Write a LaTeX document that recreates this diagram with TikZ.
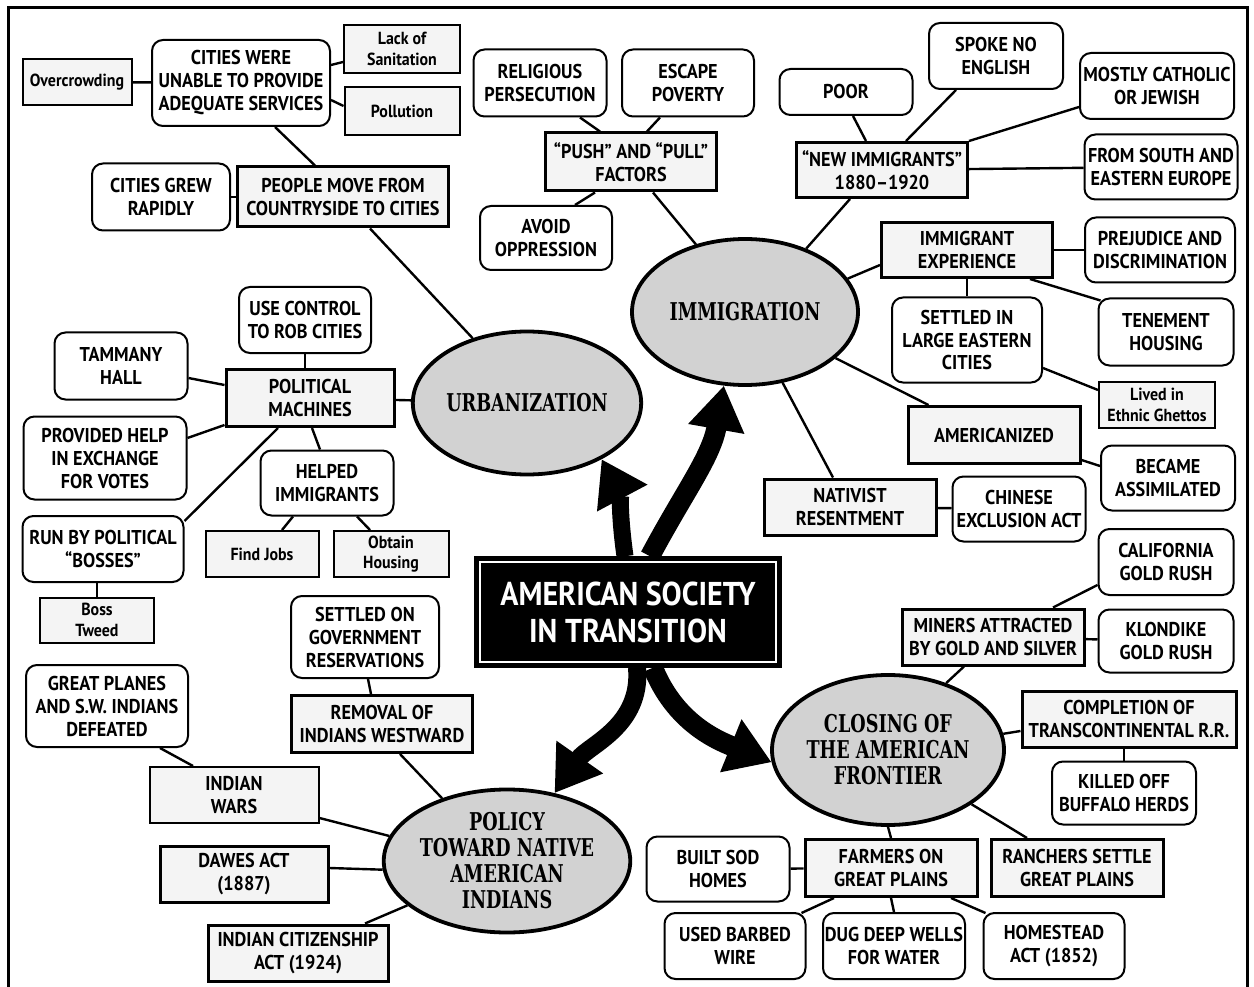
\documentclass[tikz,border=0pt]{standalone}
\usepackage{fontspec}
\setmainfont{PT Sans}[FakeStretch=0.91]
\newfontfamily\ellfam{DejaVu Serif}[FakeStretch=0.72]
\usetikzlibrary{shapes.geometric,arrows.meta}
\newcommand\mybox{\bfseries\fontsize{20}{23}\selectfont}
\newcommand\mysmall{\bfseries\fontsize{17.5}{20.5}\selectfont}
\newcommand\mytitle{\bfseries\fontsize{33}{37}\selectfont}
\newcommand\myell{\ellfam\bfseries\fontsize{24.5}{26}\selectfont}
\tikzset{
 rbox/.style={draw, line width=2pt, rounded corners=11pt, fill=white, align=center, inner sep=0pt, font=\mybox},
 sbox/.style={draw, line width=3pt, fill=gray!9, align=center, inner sep=0pt, font=\mybox},
 wbox/.style={draw, line width=2pt, fill=gray!9, align=center, inner sep=0pt, font=\mybox},
 tbox/.style={draw, line width=2pt, fill=gray!9, align=center, inner sep=0pt, font=\mysmall},
 ell/.style={draw, ellipse, line width=3.8pt, fill=gray!35, align=center, inner sep=0pt, font=\myell},
 link/.style={line width=2.4pt},
 bigarrow/.style={-{Triangle[length=44pt,width=54pt]}},
}
\begin{document}
\begin{tikzpicture}[x=1pt,y=1pt]
\useasboundingbox (0,0) rectangle (1254,-987);
\fill[white] (0,0) rectangle (1254,-987);
\draw[line width=3pt] (8,-987) -- (8,-8) -- (1247,-8) -- (1247,-987);

% urbanization cluster
\node[tbox, minimum width=109pt, minimum height=46pt] (over) at (77,-82) {Overcrowding};
\node[rbox, minimum width=178pt, minimum height=86pt] (cities) at (241,-83) {CITIES WERE\\UNABLE TO PROVIDE\\ADEQUATE SERVICES};
\node[tbox, minimum width=116pt, minimum height=48pt] (lack) at (402,-49) {Lack of\\Sanitation};
\node[tbox, minimum width=115pt, minimum height=48pt] (poll) at (402,-111) {Pollution};
\node[rbox, minimum width=138pt, minimum height=67pt] (grew) at (161,-197) {CITIES GREW\\RAPIDLY};
\node[sbox, minimum width=211pt, minimum height=60pt] (people) at (343,-197) {PEOPLE MOVE FROM\\COUNTRYSIDE TO CITIES};
\node[rbox, minimum width=132pt, minimum height=66pt] (use) at (305,-320) {USE CONTROL\\TO ROB CITIES};
\node[rbox, minimum width=133pt, minimum height=67pt] (tam) at (121,-366) {TAMMANY\\HALL};
\node[sbox, minimum width=168pt, minimum height=57pt] (pol) at (310,-398) {POLITICAL\\MACHINES};
\node[rbox, minimum width=163pt, minimum height=83pt] (prov) at (105,-458) {PROVIDED HELP\\IN EXCHANGE\\FOR VOTES};
\node[rbox, minimum width=133pt, minimum height=65pt] (help) at (327,-483) {HELPED\\IMMIGRANTS};
\node[rbox, minimum width=161pt, minimum height=66pt] (run) at (103,-549) {RUN BY POLITICAL\\“BOSSES”};
\node[tbox, minimum width=113pt, minimum height=46pt] (jobs) at (262,-554) {Find Jobs};
\node[tbox, minimum width=115pt, minimum height=46pt] (obtain) at (391,-554) {Obtain\\Housing};
\node[tbox, minimum width=114pt, minimum height=45pt] (boss) at (97,-620) {Boss\\Tweed};
\node[ell, minimum width=225pt, minimum height=143pt] (urb) at (527,-403) {URBANIZATION};

% immigration cluster
\node[rbox, minimum width=133pt, minimum height=67pt] (rel) at (540,-83) {RELIGIOUS\\PERSECUTION};
\node[rbox, minimum width=132pt, minimum height=67pt] (esc) at (688,-83) {ESCAPE\\POVERTY};
\node[sbox, minimum width=171pt, minimum height=58pt] (push) at (631,-162) {“PUSH” AND “PULL”\\FACTORS};
\node[rbox, minimum width=132pt, minimum height=64pt] (avoid) at (546,-238) {AVOID\\OPPRESSION};
\node[rbox, minimum width=133pt, minimum height=46pt] (poor) at (846,-92) {POOR};
\node[rbox, minimum width=134pt, minimum height=66pt] (spoke) at (996,-56) {SPOKE NO\\ENGLISH};
\node[rbox, minimum width=154pt, minimum height=66pt] (most) at (1157,-86) {MOSTLY CATHOLIC\\OR JEWISH};
\node[sbox, minimum width=171pt, minimum height=55pt] (new) at (882,-170) {“NEW IMMIGRANTS”\\1880–1920};
\node[rbox, minimum width=153pt, minimum height=65pt] (south) at (1161,-167) {FROM SOUTH AND\\EASTERN EUROPE};
\node[sbox, minimum width=171pt, minimum height=55pt] (exp) at (967,-250) {IMMIGRANT\\EXPERIENCE};
\node[rbox, minimum width=150pt, minimum height=65pt] (prej) at (1160,-250) {PREJUDICE AND\\DISCRIMINATION};
\node[ell, minimum width=226pt, minimum height=146pt] (imm) at (745,-312) {IMMIGRATION};
\node[rbox, minimum width=150pt, minimum height=85pt] (set) at (967,-340) {SETTLED IN\\LARGE EASTERN\\CITIES};
\node[rbox, minimum width=135pt, minimum height=67pt] (ten) at (1166,-332) {TENEMENT\\HOUSING};
\node[tbox, minimum width=116pt, minimum height=46pt] (lived) at (1157,-405) {Lived in\\Ethnic Ghettos};
\node[sbox, minimum width=172pt, minimum height=57pt] (amer) at (994,-435) {AMERICANIZED};
\node[rbox, minimum width=134pt, minimum height=65pt] (bec) at (1168,-478) {BECAME\\ASSIMILATED};
\node[sbox, minimum width=172pt, minimum height=56pt] (nat) at (850,-507) {NATIVIST\\RESENTMENT};
\node[rbox, minimum width=133pt, minimum height=65pt] (chin) at (1019,-509) {CHINESE\\EXCLUSION ACT};

% frontier cluster
\node[rbox, minimum width=135pt, minimum height=66pt] (cal) at (1166,-562) {CALIFORNIA\\GOLD RUSH};
\node[sbox, minimum width=182pt, minimum height=56pt] (miners) at (993,-637) {MINERS ATTRACTED\\BY GOLD AND SILVER};
\node[rbox, minimum width=135pt, minimum height=63pt] (klon) at (1166,-641) {KLONDIKE\\GOLD RUSH};
\node[ell, minimum width=232pt, minimum height=150pt] (clos) at (888,-750) {CLOSING OF\\THE AMERICAN\\FRONTIER};
\node[sbox, minimum width=214pt, minimum height=56pt] (comp) at (1129,-719) {COMPLETION OF\\TRANSCONTINENTAL R.R.};
\node[rbox, minimum width=144pt, minimum height=63pt] (kill) at (1124,-793) {KILLED OFF\\BUFFALO HERDS};
\node[sbox, minimum width=172pt, minimum height=57pt] (farm) at (891,-868) {FARMERS ON\\GREAT PLAINS};
\node[sbox, minimum width=172pt, minimum height=57pt] (ranch) at (1077,-868) {RANCHERS SETTLE\\GREAT PLAINS};
\node[rbox, minimum width=143pt, minimum height=65pt] (sod) at (718,-869) {BUILT SOD\\HOMES};
\node[rbox, minimum width=141pt, minimum height=66pt] (used) at (735,-946) {USED BARBED\\WIRE};
\node[rbox, minimum width=142pt, minimum height=66pt] (dug) at (894,-946) {DUG DEEP WELLS\\FOR WATER};
\node[rbox, minimum width=141pt, minimum height=66pt] (home) at (1054,-946) {HOMESTEAD\\ACT (1852)};

% policy cluster
\node[rbox, minimum width=148pt, minimum height=82pt] (setgov) at (365,-637) {SETTLED ON\\GOVERNMENT\\RESERVATIONS};
\node[rbox, minimum width=162pt, minimum height=82pt] (gp) at (107,-706) {GREAT PLANES\\AND S.W. INDIANS\\DEFEATED};
\node[sbox, minimum width=181pt, minimum height=57pt] (rem) at (382,-724) {REMOVAL OF\\INDIANS WESTWARD};
\node[wbox, minimum width=169pt, minimum height=56pt] (wars) at (234,-795) {INDIAN\\WARS};
\node[sbox, minimum width=168pt, minimum height=56pt] (dawes) at (244,-874) {DAWES ACT\\(1887)};
\node[sbox, minimum width=180pt, minimum height=56pt] (cit) at (298,-953) {INDIAN CITIZENSHIP\\ACT (1924)};
\node[ell, minimum width=221pt, minimum height=143pt] (polE) at (507,-861) {POLICY\\TOWARD NATIVE\\AMERICAN\\INDIANS};

% title
\node[draw=black, line width=3.5pt, fill=black, minimum width=304pt, minimum height=108pt, text=white, font=\mytitle, align=center, inner sep=0pt] (title) at (628,-612) {AMERICAN SOCIETY\\IN TRANSITION};
\draw[white, line width=2.2pt] ([shift={(6,-6)}]title.north west) rectangle ([shift={(-6,6)}]title.south east);

% connectors
\draw[link] (over) -- (cities);
\draw[link] ([yshift=18]cities.east) -- ([yshift=-13]lack.west);
\draw[link] ([yshift=-17]cities.east) -- ([yshift=5]poll.west);
\draw[link] ([xshift=34]cities.south) -- ([xshift=-28]people.north);
\draw[link] (grew) -- (people);
\draw[link] ([xshift=27]people.south) -- (urb.130);
\draw[link] ([xshift=40]rel.south) -- ([xshift=-31]push.north);
\draw[link] ([xshift=-28]esc.south) -- ([xshift=16]push.north);
\draw[link] ([xshift=29]avoid.north) -- ([xshift=-36]push.south);
\draw[link] ([xshift=22]push.south) -- (imm.126);
\draw[link] ([xshift=7]poor.south) -- ([xshift=-16]new.north);
\draw[link] ([xshift=-40]spoke.south) -- ([xshift=24]new.north);
\draw[link] ([yshift=-21]most.west) -- (new.north east);
\draw[link] (new) -- (south);
\draw[link] ([xshift=-32]new.south) -- (imm.46);
\draw[link] ([yshift=-15]exp.west) -- (imm.18);
\draw[link] (exp) -- (prej);
\draw[link] ([xshift=63]exp.south) -- ([shift={(3,-3)}]ten.north west);
\draw[link] (exp.south) -- (set.north);
\draw[link] ([yshift=-28]set.east) -- ([yshift=15]lived.west);
\draw[link] (imm.-27) -- ([xshift=22]amer.north west);
\draw[link] (imm.-62) -- ([xshift=-17]nat.north);
\draw[link] ([yshift=-25]amer.east) -- ([yshift=12]bec.west);
\draw[link] (nat) -- (chin);
\draw[link] ([xshift=60]miners.north) -- ([yshift=-23]cal.west);
\draw[link] (miners) -- (klon);
\draw[link] ([xshift=-29]miners.south) -- (clos.49);
\draw[link] (clos.8) -- ([yshift=-12]comp.west);
\draw[link] (kill.north) -- (kill.north |- comp.south);
\draw[link] (clos.south) -- (farm.north);
\draw[link] (clos.-33) -- ([xshift=-50]ranch.north);
\draw[link] (sod) -- (farm);
\draw[link] ([xshift=-57]farm.south) -- ([shift={(-5,-1)}]used.north east);
\draw[link] (farm.south) -- (dug.north);
\draw[link] ([xshift=60]farm.south) -- ([shift={(3,-1)}]home.north west);
\draw[link] (pol) -- (urb);
\draw[link] (use.south) -- (use.south |- pol.north);
\draw[link] ([yshift=-12]tam.east) -- ([yshift=13]pol.west);
\draw[link] ([yshift=20]prov.east) -- ([yshift=-27]pol.west);
\draw[link] ([yshift=-6]run.north east) -- ([xshift=-32]pol.south);
\draw[link] ([xshift=-7]help.north) -- ([xshift=2]pol.south);
\draw[link] ([xshift=-34]help.south) -- ([xshift=20]jobs.north);
\draw[link] ([xshift=30]help.south) -- ([xshift=-21]obtain.north);
\draw[link] (boss.north) -- (boss.north |- run.south);
\draw[link] ([xshift=3]setgov.south) -- ([xshift=-11]rem.north);
\draw[link] ([xshift=53]gp.south) -- ([xshift=-41]wars.north);
\draw[link] ([xshift=18]rem.south) -- (polE.136);
\draw[link] ([yshift=-23]wars.east) -- (polE.168);
\draw[link] ([yshift=6]dawes.east) -- (polE.184);
\draw[link] ([xshift=67]cit.north) -- (polE.204);

% big arrows
\draw[bigarrow, line width=17pt] ([xshift=-3]title.north) to[out=98,in=-62] (urb.-37);
\draw[bigarrow, line width=20pt] ([xshift=22]title.north) to[out=62,in=-100] (imm.-106);
\draw[bigarrow, line width=18pt] ([xshift=9]title.south) to[out=-85,in=55] (polE.55);
\draw[bigarrow, line width=20pt] ([xshift=25]title.south) to[out=-68,in=158] (clos.186);
\end{tikzpicture}
\end{document}
